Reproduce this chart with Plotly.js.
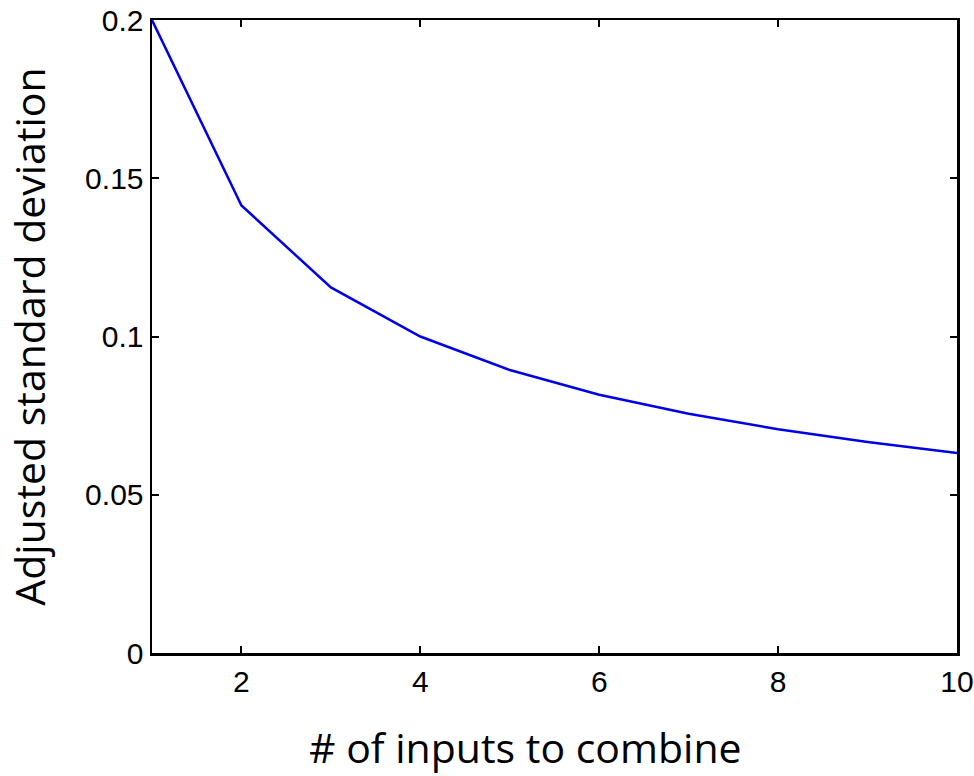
<!DOCTYPE html>
<html>
<head>
<meta charset="utf-8">
<script src="https://cdn.plot.ly/plotly-3.0.1.min.js"></script>
<style>html,body{margin:0;padding:0;background:#fff;}#chart{width:974px;height:776px;}</style>
</head>
<body>
<div id="chart"></div>
<script>
const nInputs = [1, 2, 3, 4, 5, 6, 7, 8, 9, 10];
const adjustedStd = [0.2, 0.1414, 0.1155, 0.1, 0.0894, 0.0816, 0.0756, 0.0707, 0.0667, 0.0632];
const xTickVals = [2, 4, 6, 8, 10];
const xTickText = ['2', '4', '6', '8', '10'];
const yTickVals = [0, 0.05, 0.1, 0.15, 0.2];
const yTickText = ['0', '0.05', '0.1', '0.15', '0.2'];
const xTitle = '# of inputs to combine';
const yTitle = 'Adjusted standard deviation';

const trace = {
  x: nInputs,
  y: adjustedStd,
  type: 'scatter',
  mode: 'lines',
  line: {color: '#0000e8', width: 2.5},
  hoverinfo: 'skip'
};

const tickFont = {family: 'Liberation Sans, Arial, sans-serif', size: 30, color: '#000'};
const titleFont = {family: 'Open Sans, sans-serif', size: 41, color: '#000'};

const layout = {
  width: 974,
  height: 776,
  margin: {l: 152, r: 17, t: 20, b: 123},
  paper_bgcolor: '#fff',
  plot_bgcolor: '#fff',
  showlegend: false,
  xaxis: {
    range: [1, 10],
    tickvals: xTickVals,
    ticktext: xTickText,
    ticks: 'inside',
    ticklen: 7,
    tickwidth: 2,
    tickcolor: '#000',
    showline: true,
    linecolor: '#000',
    linewidth: 2.5,
    mirror: 'ticks',
    showgrid: false,
    zeroline: false,
    tickfont: tickFont,
    ticklabelstandoff: 0
  },
  yaxis: {
    range: [0, 0.2],
    tickvals: yTickVals,
    ticktext: yTickText,
    ticks: 'inside',
    ticklen: 7,
    tickwidth: 2,
    tickcolor: '#000',
    showline: true,
    linecolor: '#000',
    linewidth: 2.5,
    mirror: 'ticks',
    showgrid: false,
    zeroline: false,
    tickfont: tickFont,
    ticklabelstandoff: 0,
    title: {text: yTitle, font: titleFont, standoff: 27}
  },
  annotations: [{
    text: xTitle,
    xref: 'paper', yref: 'paper',
    x: 0.4634, y: -0.1485,
    xanchor: 'center', yanchor: 'middle',
    showarrow: false,
    font: titleFont
  }]
};

Plotly.newPlot('chart', [trace], layout, {displayModeBar: false, staticPlot: true});
</script>
</body>
</html>
